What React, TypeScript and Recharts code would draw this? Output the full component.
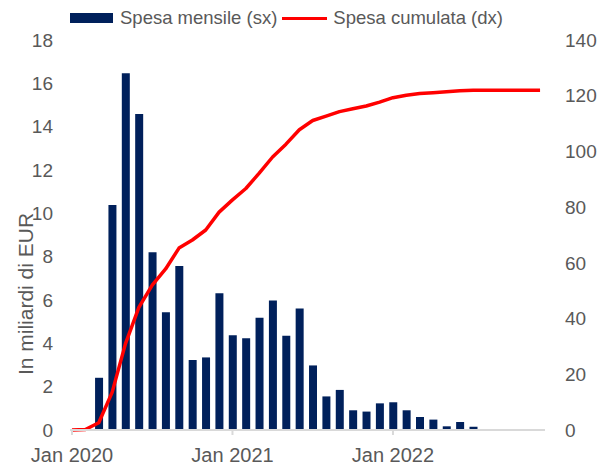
import {
  Bar,
  ComposedChart,
  Line,
  XAxis,
  YAxis,
} from "recharts";

// month index 0 = Jan 2020 ... 35 = Dec 2022
const monthIdx = Array.from({ length: 36 }, (_, i) => i);

// Spesa mensile (sx), miliardi di EUR
const spesaMensile = [
  0, 0, 2.41, 10.38, 16.46, 14.58, 8.2, 5.43, 7.57, 3.23, 3.35, 6.31,
  4.37, 4.23, 5.18, 5.98, 4.35, 5.61, 2.98, 1.55, 1.85, 0.91, 0.85, 1.23,
  1.28, 0.91, 0.6, 0.48, 0.17, 0.37, 0.15, 0, 0, 0, 0, 0,
];

// Spesa cumulata (dx)
const spesaCumulata = [
  0, 0.2, 2.6, 13.5, 31, 44, 52, 57.8, 65.3, 68.2, 71.8, 78.2,
  82.6, 86.7, 92.2, 98, 102.6, 107.8, 111.1, 112.7, 114.3, 115.3, 116.3, 117.7,
  119.3, 120.2, 120.8, 121.1, 121.4, 121.8, 122, 122, 122, 122, 122, 122,
];

const xTicks = [0, 12, 24];
const xTickLabels = ["Jan 2020", "Jan 2021", "Jan 2022"];
const leftTicks = [0, 2, 4, 6, 8, 10, 12, 14, 16, 18];
const rightTicks = [0, 20, 40, 60, 80, 100, 120, 140];

const NAVY = "#00205b";
const RED = "#ff0000";
const GREY = "#595959";
const FONT = "'Liberation Sans', Arial, sans-serif";

const rows = monthIdx.map((idx, i) => ({
  idx,
  mensile: spesaMensile[i],
  cumulata: spesaCumulata[i],
}));

function fmtX(v: number) {
  const i = xTicks.indexOf(v);
  return i >= 0 ? xTickLabels[i] : "";
}

export default function App() {
  const tick = { fill: GREY, fontSize: 19, fontFamily: FONT };
  return (
    <div style={{ position: "absolute", left: 0, top: 0, width: 603, height: 467, background: "#fff" }}>
      <ComposedChart
        width={603}
        height={467}
        data={rows}
        margin={{ top: 40, right: 0, left: 30, bottom: 0 }}
      >
        <XAxis
          dataKey="idx"
          type="number"
          domain={[-0.15, 35.37]}
          allowDataOverflow
          ticks={xTicks}
          tickFormatter={fmtX}
          height={37}
          stroke="#d9d9d9"
          tick={{ ...tick, fontSize: 20 }}
          tickSize={5}
          tickMargin={13}
          axisLine={{ stroke: "#d9d9d9", strokeWidth: 2 }}
          tickLine={{ stroke: "#d9d9d9", strokeWidth: 2 }}
        />
        <YAxis
          yAxisId="left"
          domain={[0, 18]}
          ticks={leftTicks}
          width={40}
          axisLine={false}
          tickLine={false}
          tickSize={0}
          tickMargin={17}
          tick={tick}
          label={() => (
            <text
              x={26}
              y={294}
              transform="rotate(-90 26 294)"
              textAnchor="middle"
              dy="0.35em"
              fill={GREY}
              fontSize={21}
              fontFamily={FONT}
            >
              In miliardi di EUR
            </text>
          )}
        />
        <YAxis
          yAxisId="right"
          orientation="right"
          domain={[0, 140]}
          ticks={rightTicks}
          width={58}
          axisLine={false}
          tickLine={false}
          tickSize={0}
          tickMargin={20}
          tick={tick}
        />
        <Bar
          yAxisId="left"
          dataKey="mensile"
          fill={NAVY}
          barSize={8}
          isAnimationActive={false}
        />
        <Line
          yAxisId="right"
          dataKey="cumulata"
          type="linear"
          stroke={RED}
          strokeWidth={3.5}
          strokeLinejoin="round"
          dot={false}
          activeDot={false}
          isAnimationActive={false}
        />
      </ComposedChart>
      <div
        style={{
          position: "absolute",
          top: 7,
          left: 70,
          display: "flex",
          alignItems: "center",
          fontFamily: FONT,
          fontSize: 18.5,
          color: GREY,
          whiteSpace: "nowrap",
        }}
      >
        <span style={{ width: 43, height: 10, background: NAVY, display: "inline-block", marginRight: 7 }} />
        <span>Spesa mensile (sx)</span>
        <span style={{ width: 45, height: 3, background: RED, display: "inline-block", margin: "0 6px 0 5px" }} />
        <span>Spesa cumulata (dx)</span>
      </div>
    </div>
  );
}
